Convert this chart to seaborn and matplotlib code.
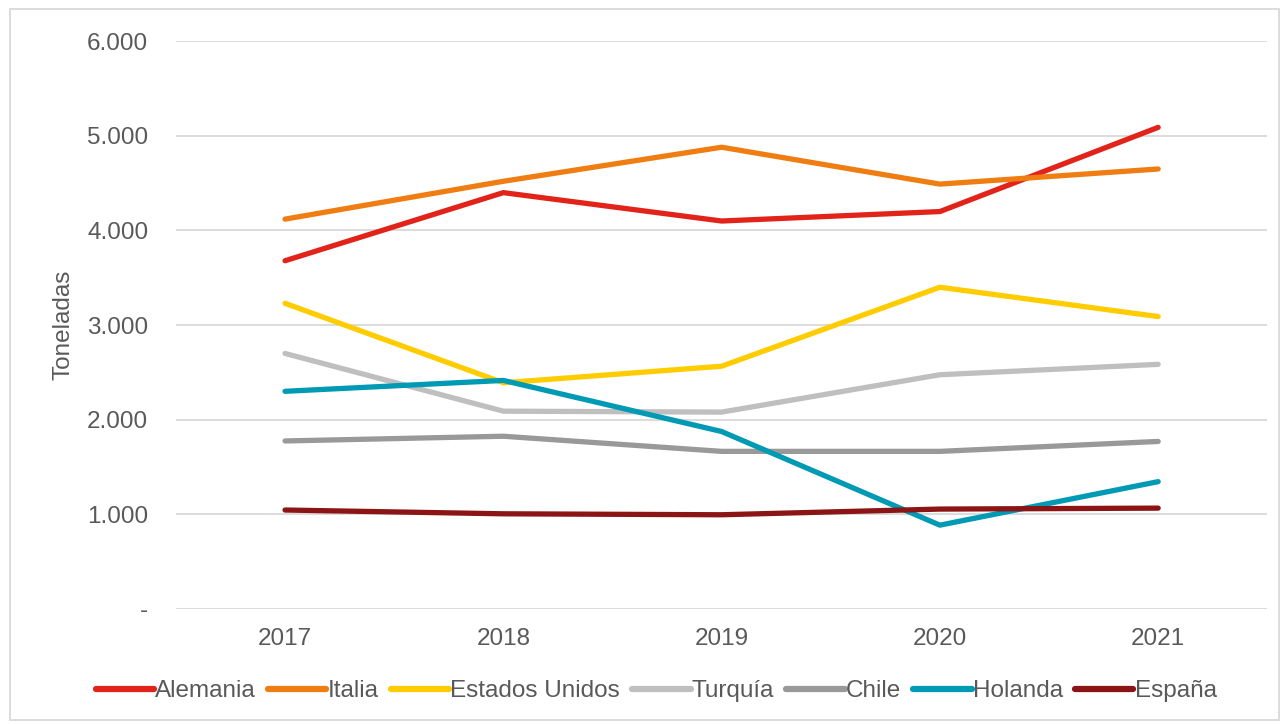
import matplotlib
matplotlib.use("Agg")
import matplotlib.pyplot as plt
import seaborn as sns
import pandas as pd
from matplotlib.patches import Rectangle
from matplotlib.ticker import FuncFormatter

# ── Datos ──────────────────────────────────────────────────────
years = ["2017", "2018", "2019", "2020", "2021"]
countries = ["Alemania", "Italia", "Estados Unidos", "Turquía", "Chile", "Holanda", "España"]
alemania = [3680, 4400, 4100, 4200, 5090]
italia = [4120, 4520, 4880, 4490, 4650]
estados_unidos = [3230, 2390, 2565, 3400, 3090]
turquia = [2700, 2090, 2080, 2475, 2585]
chile = [1775, 1825, 1665, 1665, 1770]
holanda = [2300, 2415, 1875, 885, 1345]
espana = [1045, 1005, 995, 1055, 1065]
colors = ["#E2231A", "#F07D12", "#FFCC00", "#BFBFBF", "#999999", "#009AB5", "#8B1414"]

series = [alemania, italia, estados_unidos, turquia, chile, holanda, espana]
df = pd.DataFrame(
    [(y, c, v) for c, vals in zip(countries, series) for y, v in zip(years, vals)],
    columns=["Año", "País", "Toneladas"],
)

sns.set_style("white")
plt.rcParams["font.family"] = ["Liberation Sans", "DejaVu Sans"]
TXT = "#595959"
FS = 17.5

fig = plt.figure(figsize=(12.84, 7.24), dpi=100)
ax = fig.add_axes([0.137, 0.159, 0.850, 0.784])

sns.lineplot(data=df, x="Año", y="Toneladas", hue="País", hue_order=countries,
             palette=colors, linewidth=3.8, ax=ax, sort=False,
             solid_capstyle="round")

ax.set_xlim(-0.5, 4.5)
ax.set_ylim(0, 6000)
ax.set_yticks(range(0, 6001, 1000))
ax.yaxis.set_major_formatter(FuncFormatter(
    lambda v, p: "-" if v == 0 else f"{int(v):,}".replace(",", ".")))
ax.grid(axis="y", color="#D9D9D9", linewidth=1.3)
ax.set_axisbelow(True)
for s in ax.spines.values():
    s.set_visible(False)
ax.tick_params(axis="y", length=0, labelsize=FS, colors=TXT, pad=20)
ax.tick_params(axis="x", length=0, labelsize=FS, colors=TXT, pad=14)
ax.set_xlabel("")
ax.set_ylabel("Toneladas", fontsize=FS, color=TXT, labelpad=9)

leg = ax.legend(loc="center", bbox_to_anchor=(0.44, -0.145), ncol=7,
                frameon=False, fontsize=FS, handlelength=2.4, handletextpad=0.05,
                columnspacing=0.5, labelcolor=TXT)
for h in leg.get_lines():
    h.set_linewidth(4.5)

fig.patches.append(Rectangle((0.008, 0.006), 0.988, 0.982, transform=fig.transFigure,
                             fill=False, edgecolor="#D9D9D9", linewidth=1.3))

plt.savefig("out.png", dpi=100)
plt.close()
